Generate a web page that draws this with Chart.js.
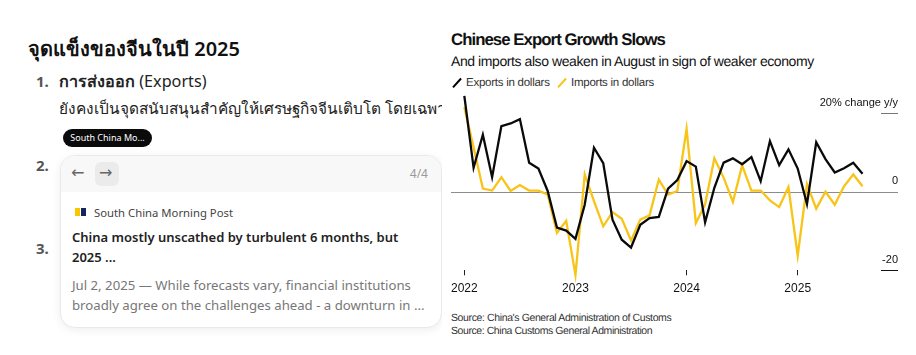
<!DOCTYPE html>
<html>
<head>
<meta charset="utf-8">
<script src="https://cdn.jsdelivr.net/npm/chart.js@4"></script>
<style>
    html, body { margin: 0; padding: 0; background: #fff; }
    body { width: 916px; height: 355px; position: relative; overflow: hidden; font-family: "Noto Sans", "Open Sans", sans-serif; }
    .abs { position: absolute; white-space: nowrap; line-height: 1; }
    #left { position: absolute; left: 0; top: 0; width: 442px; height: 355px; overflow: hidden; }
    #card { position: absolute; left: 60px; top: 155px; width: 382px; height: 173px; box-sizing: border-box; background: #fff; border: 1px solid #e9e9e9; border-radius: 15px; box-shadow: 0 2px 10px rgba(0,0,0,0.07); overflow: hidden; }
    #cardHead { position: absolute; left: 0; top: 0; right: 0; height: 36px; background: #f8f8f8; }
    #nextBtn { position: absolute; left: 34px; top: 6px; width: 24px; height: 24px; border-radius: 6px; background: #ebebeb; }
    .chartText { font-family: "Liberation Sans", Arial, sans-serif; color: #111; text-rendering: geometricPrecision; }
    .slash { position: absolute; width: 2.2px; height: 12px; transform: rotate(42deg); }
    #chartBox { position: absolute; left: 445px; top: 90px; width: 471px; height: 210px; }
</style>
</head>
<body>
<div id="left">
    <div class="abs" style="left:28px;top:39px;font-size:20px;font-weight:600;color:#111">จุดแข็งของจีนในปี 2025</div>
    <div class="abs" style="left:36px;top:74px;font-size:15px;font-weight:700;color:#555">1.</div>
    <div class="abs" style="left:59px;top:73px;font-size:16.2px;color:#222"><span style="font-weight:600">การส่งออก</span> (Exports)</div>
    <div class="abs" style="left:59px;top:101px;font-size:15.4px;color:#222">ยังคงเป็นจุดสนับสนุนสำคัญให้เศรษฐกิจจีนเติบโต โดยเฉพาะ</div>
    <div class="abs" style="left:63px;top:129px;width:89px;height:18px;background:#0b0b0b;border-radius:9px;color:#fff;font-size:9px;line-height:18px;text-align:center">South China Mo...</div>
    <div class="abs" style="left:36px;top:158px;font-size:15px;font-weight:700;color:#555">2.</div>
    <div class="abs" style="left:36px;top:241px;font-size:15px;font-weight:700;color:#555">3.</div>
    <div id="card">
        <div id="cardHead"><div id="nextBtn"></div></div>
        <div class="abs" style="left:10px;top:9px;font-size:16px;color:#666;font-family:'DejaVu Sans'">←</div>
        <div class="abs" style="left:38px;top:9px;font-size:16px;color:#666;font-family:'DejaVu Sans'">→</div>
        <div class="abs" style="right:13px;top:12px;font-size:12px;color:#9a9a9a">4/4</div>
        <div class="abs" style="left:14px;top:52px;width:5px;height:8px;background:#fdc500"></div>
        <div class="abs" style="left:20px;top:52px;width:5px;height:8px;background:#12275c"></div>
        <div class="abs" style="left:33px;top:51px;font-size:11.3px;color:#444">South China Morning Post</div>
        <div class="abs" style="left:11px;top:75px;font-size:13px;font-weight:600;color:#222">China mostly unscathed by turbulent 6 months, but</div>
        <div class="abs" style="left:11px;top:95px;font-size:13px;font-weight:600;color:#222">2025 ...</div>
        <div class="abs" style="left:11px;top:123px;font-size:13.2px;color:#777">Jul 2, 2025 — While forecasts vary, financial institutions</div>
        <div class="abs" style="left:11px;top:143px;font-size:13.2px;color:#777">broadly agree on the challenges ahead - a downturn in ...</div>
    </div>
</div>

<div class="abs chartText" style="left:451px;top:32px;font-size:16.8px;font-weight:700;letter-spacing:-0.95px">Chinese Export Growth Slows</div>
<div class="abs chartText" style="left:451px;top:54px;font-size:14px;letter-spacing:-0.42px">And imports also weaken in August in sign of weaker economy</div>
<div class="slash" style="left:456px;top:77px;background:#000"></div>
<div class="abs chartText" style="left:466px;top:78px;font-size:11.5px;letter-spacing:-0.25px;color:#333">Exports in dollars</div>
<div class="slash" style="left:561px;top:77px;background:#f7c417"></div>
<div class="abs chartText" style="left:571px;top:78px;font-size:11.5px;letter-spacing:-0.25px;color:#333">Imports in dollars</div>
<div class="abs chartText" style="left:451px;top:313px;font-size:10.5px;letter-spacing:-0.38px;color:#333;word-spacing:0">Source: China's General Administration of Customs</div>
<div class="abs chartText" style="left:451px;top:326px;font-size:10.5px;letter-spacing:-0.43px;color:#333">Source: China Customs General Administration</div>

<div id="chartBox"><canvas id="exportChart"></canvas></div>

<script>
// monthly, Jan 2022 to Aug 2025, % change y/y
const months = [
    "2022-01","2022-02","2022-03","2022-04","2022-05","2022-06","2022-07","2022-08","2022-09","2022-10","2022-11","2022-12",
    "2023-01","2023-02","2023-03","2023-04","2023-05","2023-06","2023-07","2023-08","2023-09","2023-10","2023-11","2023-12",
    "2024-01","2024-02","2024-03","2024-04","2024-05","2024-06","2024-07","2024-08","2024-09","2024-10","2024-11","2024-12",
    "2025-01","2025-02","2025-03","2025-04","2025-05","2025-06","2025-07","2025-08"
];
const exportsGrowth = [
    24.4, 6.1, 14.5, 3.7, 16.7, 17.4, 18.5, 7.4, 5.9, 0.2, -9.1, -9.9,
    -12.0, -3.3, 11.2, 7.3, -7.1, -12.2, -14.2, -8.4, -6.7, -6.4, 0.8, 3.0,
    7.8, 6.4, -7.8, 1.0, 7.4, 8.5, 7.0, 8.8, 2.7, 12.9, 6.8, 10.8,
    5.9, -3.1, 12.6, 8.3, 4.9, 6.0, 7.4, 4.6
];
const importsGrowth = [
    21.5, 11.3, 0.8, 0.3, 3.7, 0.2, 1.7, 0.3, 0.3, -0.7, -10.5, -7.4,
    -21.2, 4.4, -2.4, -8.8, -5.2, -6.9, -12.4, -7.1, -6.0, 3.1, -0.7, 0.2,
    16.0, -8.0, -3.2, 8.5, 3.6, -2.6, 6.7, 0.3, 0.3, -2.2, -3.9, 1.2,
    -16.3, 1.9, -4.3, 0.0, -3.3, 1.4, 4.4, 1.4
];
const yearPositions = [0, 12, 24, 36];
const yearLabels = ["2022", "2023", "2024", "2025"];
const yTicks = [-20, 0, 20];
const yLabels = { "20": "20% change y/y", "0": "0", "-20": "-20" };

function toPoints(values) {
    return values.map((v, i) => ({ x: i, y: v, month: months[i] }));
}

// the gray zero line and the short rules under the right hand labels
const axisRules = {
    id: "axisRules",
    beforeDatasetsDraw(chart) {
        const { ctx, chartArea, scales } = chart;
        ctx.save();
        ctx.lineWidth = 1;
        ctx.strokeStyle = "#8c8c8c";
        let y = Math.round(scales.y.getPixelForValue(0)) + 0.5;
        ctx.beginPath();
        ctx.moveTo(chartArea.left, y);
        ctx.lineTo(chartArea.right, y);
        ctx.stroke();
        [[20, "#777"], [-20, "#111"]].forEach(([v, color]) => {
            y = Math.round(scales.y.getPixelForValue(v)) + 0.5;
            ctx.strokeStyle = color;
            ctx.beginPath();
            ctx.moveTo(chartArea.right - 17, y);
            ctx.lineTo(chartArea.right, y);
            ctx.stroke();
        });
        ctx.restore();
    }
};

new Chart(document.getElementById("exportChart").getContext("2d"), {
    type: "line",
    data: {
        datasets: [
            { label: "Exports in dollars", data: toPoints(exportsGrowth), borderColor: "#0a0a0a", borderWidth: 2.3, pointRadius: 0, tension: 0, clip: false },
            { label: "Imports in dollars", data: toPoints(importsGrowth), borderColor: "#f7c417", borderWidth: 2.3, pointRadius: 0, tension: 0, clip: false }
        ]
    },
    options: {
        responsive: true,
        maintainAspectRatio: false,
        animation: false,
        layout: { padding: { left: 6, right: 18, top: 2, bottom: 0 } },
        plugins: { legend: { display: false }, tooltip: { enabled: false } },
        scales: {
            x: {
                type: "linear",
                min: -1.44,
                max: 46.83,
                afterBuildTicks: scale => { scale.ticks = yearPositions.map(v => ({ value: v })); },
                afterFit: scale => { scale.height = 29.7; scale.paddingLeft = 0; scale.paddingRight = 0; },
                grid: { drawOnChartArea: false, drawTicks: true, tickLength: 5, tickColor: "#222", lineWidth: 1 },
                border: { display: false },
                ticks: {
                    autoSkip: false,
                    maxRotation: 0,
                    padding: 6,
                    color: "#111",
                    font: { family: "Liberation Sans", size: 12 },
                    callback: v => yearLabels[yearPositions.indexOf(v)]
                }
            },
            y: {
                position: "right",
                min: -20,
                max: 25.4,
                afterBuildTicks: scale => { scale.ticks = yTicks.map(v => ({ value: v })); },
                afterFit: scale => { scale.width = 0; scale.paddingTop = 0; scale.paddingBottom = 0; },
                grid: { display: false },
                border: { display: false },
                ticks: {
                    mirror: true,
                    padding: 0,
                    labelOffset: -10.5,
                    color: "#111",
                    font: { family: "Liberation Sans", size: 11 },
                    callback: v => yLabels[String(v)]
                }
            }
        }
    },
    plugins: [axisRules]
});
</script>
</body>
</html>
